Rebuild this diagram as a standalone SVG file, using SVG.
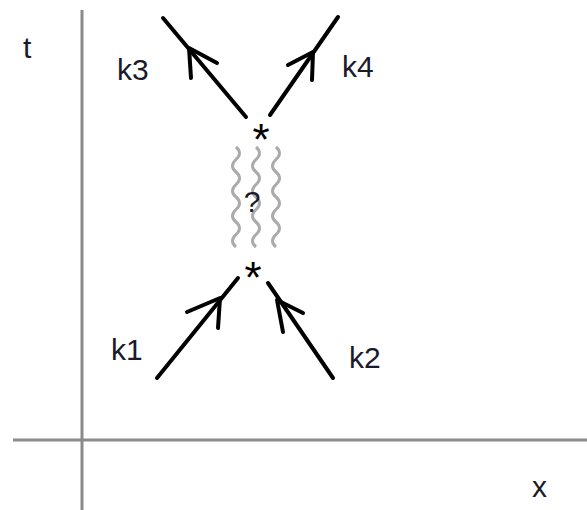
<svg xmlns="http://www.w3.org/2000/svg" width="587" height="510" viewBox="0 0 587 510">
<style>
.axis{stroke:#8a8a8a;stroke-width:3;fill:none}
.prop{stroke:#000;stroke-width:4;fill:none;stroke-linecap:round;stroke-linejoin:round}
.wave{stroke:#ababab;stroke-width:3;fill:none}
.lbl{font-family:"Liberation Sans",Arial,sans-serif;font-size:30px;fill:#1a1a2a}
.star{font-family:"Liberation Sans",Arial,sans-serif;font-size:44px;fill:#000;text-anchor:middle}
</style>
<rect width="587" height="510" fill="#fff"/>
<g id="axes">
<line class="axis" x1="82" y1="10" x2="82" y2="510"/>
<line class="axis" x1="13" y1="440" x2="587" y2="440"/>
<text class="lbl" x="23" y="58">t</text>
<text class="lbl" x="532" y="497">x</text>
</g>
<g id="exchange">
<path class="wave" d="M236,147 q7,6 0,12.5 t0,12.5 t0,12.5 t0,12.5 t0,12.5 t0,12.5 t0,12.5 t0,12.5"/>
<path class="wave" d="M256,147 q7,6 0,12.5 t0,12.5 t0,12.5 t0,12.5 t0,12.5 t0,12.5 t0,12.5 t0,12.5"/>
<path class="wave" d="M276,147 q7,6 0,12.5 t0,12.5 t0,12.5 t0,12.5 t0,12.5 t0,12.5 t0,12.5 t0,12.5"/>
<text class="lbl" x="252" y="212" text-anchor="middle">?</text>
</g>
<g id="vertex-top"><text class="star" x="261" y="155">*</text></g>
<g id="vertex-bottom"><text class="star" x="253" y="293">*</text></g>
<g id="connectors">
<g id="k3">
<line class="prop" x1="246" y1="117" x2="163" y2="18"/>
<polyline class="prop" points="191,78 189,48 217,63"/>
</g>
<g id="k4">
<line class="prop" x1="270" y1="115" x2="338" y2="17"/>
<polyline class="prop" points="288,65 313,52 312,80"/>
</g>
<g id="k1">
<line class="prop" x1="157" y1="378" x2="238" y2="278"/>
<polyline class="prop" points="187,312 220,298 218,328"/>
</g>
<g id="k2">
<line class="prop" x1="333" y1="378" x2="268" y2="283"/>
<polyline class="prop" points="283,332 277,300 303,313"/>
</g>
</g>
<g id="labels">
<text class="lbl" x="117" y="80">k3</text>
<text class="lbl" x="342" y="77">k4</text>
<text class="lbl" x="111" y="360">k1</text>
<text class="lbl" x="349" y="368">k2</text>
</g>
</svg>
